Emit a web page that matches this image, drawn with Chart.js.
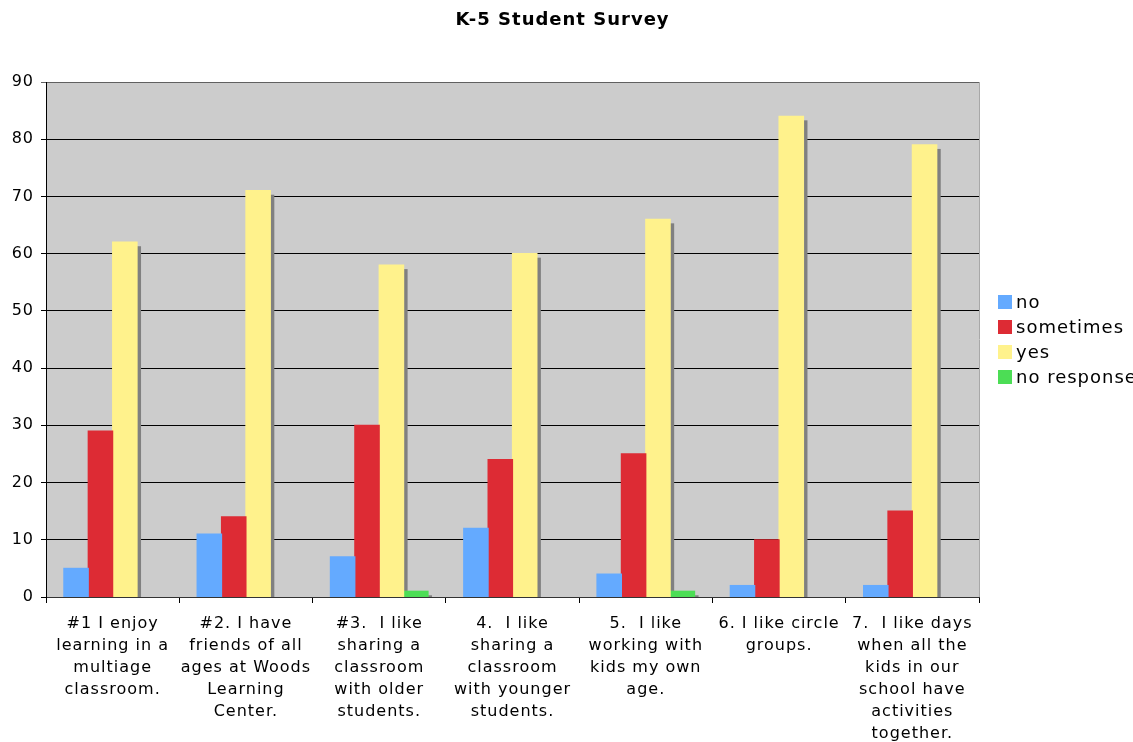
<!DOCTYPE html>
<html>
<head>
<meta charset="utf-8">
<title>K-5 Student Survey</title>
<script src="https://cdn.jsdelivr.net/npm/chart.js@4/dist/chart.umd.min.js"></script>
<style>
  html, body { margin: 0; padding: 0; background: #fff; overflow: hidden; }
  #wrap { width: 1133px; height: 742px; position: relative; }
</style>
</head>
<body>
<div id="wrap"><canvas id="c"></canvas></div>
<script>
// Survey questions (multi-line category labels)
const categories = [
  ["#1 I enjoy", "learning in a", "multiage", "classroom."],
  ["#2. I have", "friends of all", "ages at Woods", "Learning", "Center."],
  ["#3.  I like", "sharing a", "classroom", "with older", "students."],
  ["4.  I like", "sharing a", "classroom", "with younger", "students."],
  ["5.  I like", "working with", "kids my own", "age."],
  ["6. I like circle", "groups."],
  ["7.  I like days", "when all the", "kids in our", "school have", "activities", "together."]
];

// Answer counts per question
const noValues         = [5, 11, 7, 12, 4, 2, 2];
const sometimesValues  = [29, 14, 30, 24, 25, 10, 15];
const yesValues        = [62, 71, 58, 60, 66, 84, 79];
const noResponseValues = [0, 0, 1, 0, 1, 0, 0];

const seriesNames  = ["no", "sometimes", "yes", "no response"];
const seriesColors = ["#64aaff", "#dd2b34", "#fff28c", "#4cdd55"];

const chartTitle = "K-5 Student Survey";
const FONT = "DejaVu Sans, Verdana, sans-serif";

// Plot background, title, right edge line and letter spacing
const frame = {
  id: "frame",
  beforeLayout(chart) { chart.ctx.letterSpacing = "1px"; },
  beforeDraw(chart) {
    const { ctx, chartArea: a } = chart;
    ctx.letterSpacing = "1px";
    ctx.save();
    ctx.fillStyle = "#cccccc";
    ctx.fillRect(a.left, a.top, a.right - a.left, a.bottom - a.top);
    ctx.fillStyle = "#000";
    ctx.font = "bold 18px " + FONT;
    ctx.textAlign = "center";
    ctx.textBaseline = "middle";
    ctx.fillText(chartTitle, chart.width / 2 - 4, 20);
    ctx.restore();
  },
  afterDraw(chart) {
    const { ctx, chartArea: a } = chart;
    ctx.save();
    ctx.strokeStyle = "#a8a8a8";
    ctx.lineWidth = 1;
    ctx.beginPath();
    ctx.moveTo(a.right + 0.5, a.top);
    ctx.lineTo(a.right + 0.5, a.bottom);
    ctx.stroke();
    ctx.restore();
  }
};

// Gray drop shadow behind every bar, offset down and to the right
const barShadow = {
  id: "barShadow",
  beforeDatasetsDraw(chart) {
    const { ctx, chartArea: a } = chart;
    ctx.save();
    ctx.beginPath();
    ctx.rect(a.left, a.top, a.right - a.left, a.bottom - a.top);
    ctx.clip();
    ctx.fillStyle = "#808080";
    chart.data.datasets.forEach((ds, i) => {
      chart.getDatasetMeta(i).data.forEach(bar => {
        const h = bar.base - bar.y;
        if (h <= 0) return;
        ctx.fillRect(bar.x - bar.width / 2 + 4, bar.y + 4, bar.width, h);
      });
    });
    ctx.restore();
  }
};

// Legend on the right, drawn from the datasets
const sideLegend = {
  id: "sideLegend",
  afterDraw(chart) {
    const ctx = chart.ctx;
    ctx.save();
    ctx.letterSpacing = "1px";
    ctx.font = "18px " + FONT;
    ctx.textBaseline = "middle";
    ctx.textAlign = "left";
    chart.data.datasets.forEach((ds, i) => {
      const cy = 302 + i * 25;
      ctx.fillStyle = seriesColors[i];
      ctx.fillRect(998, cy - 7, 14, 14);
      ctx.fillStyle = "#000";
      ctx.fillText(ds.label, 1016, cy + 1);
    });
    ctx.restore();
  }
};

const valueSets = [noValues, sometimesValues, yesValues, noResponseValues];

new Chart(document.getElementById("c"), {
  type: "bar",
  data: {
    labels: categories,
    datasets: valueSets.map((vals, i) => ({
      label: seriesNames[i],
      data: vals,
      // a zero count leaves no visible bar
      backgroundColor: c => (c.raw === 0 ? "rgba(0,0,0,0)" : seriesColors[i]),
      borderWidth: 0,
      inflateAmount: 0.6,
      categoryPercentage: 0.732,
      barPercentage: 1.0
    }))
  },
  options: {
    responsive: true,
    maintainAspectRatio: false,
    animation: false,
    layout: { padding: { left: 0, right: 154, top: 82, bottom: 0 } },
    plugins: {
      legend: { display: false },
      tooltip: { enabled: false },
      title: { display: false }
    },
    scales: {
      x: {
        offset: true,
        grid: {
          offset: true,
          drawOnChartArea: false,
          drawTicks: true,
          tickLength: 6,
          color: "#000"
        },
        border: { display: true, color: "#333", width: 1 },
        ticks: {
          color: "#000",
          font: { family: FONT, size: 16, lineHeight: 22 / 16 },
          padding: 10,
          maxRotation: 0,
          minRotation: 0,
          autoSkip: false
        },
        afterFit(scale) { scale.height = 145; }
      },
      y: {
        min: 0,
        max: 90,
        ticks: {
          stepSize: 10,
          color: "#000",
          font: { family: FONT, size: 16 },
          padding: 7
        },
        grid: {
          tickLength: 5,
          color: ctx => (ctx.tick && ctx.tick.value === 90 ? "#606060" : "#000"),
          lineWidth: 1
        },
        border: { display: true, color: "#000", width: 1 },
        afterFit(scale) { scale.width = 46; }
      }
    }
  },
  plugins: [frame, barShadow, sideLegend]
});
</script>
</body>
</html>
